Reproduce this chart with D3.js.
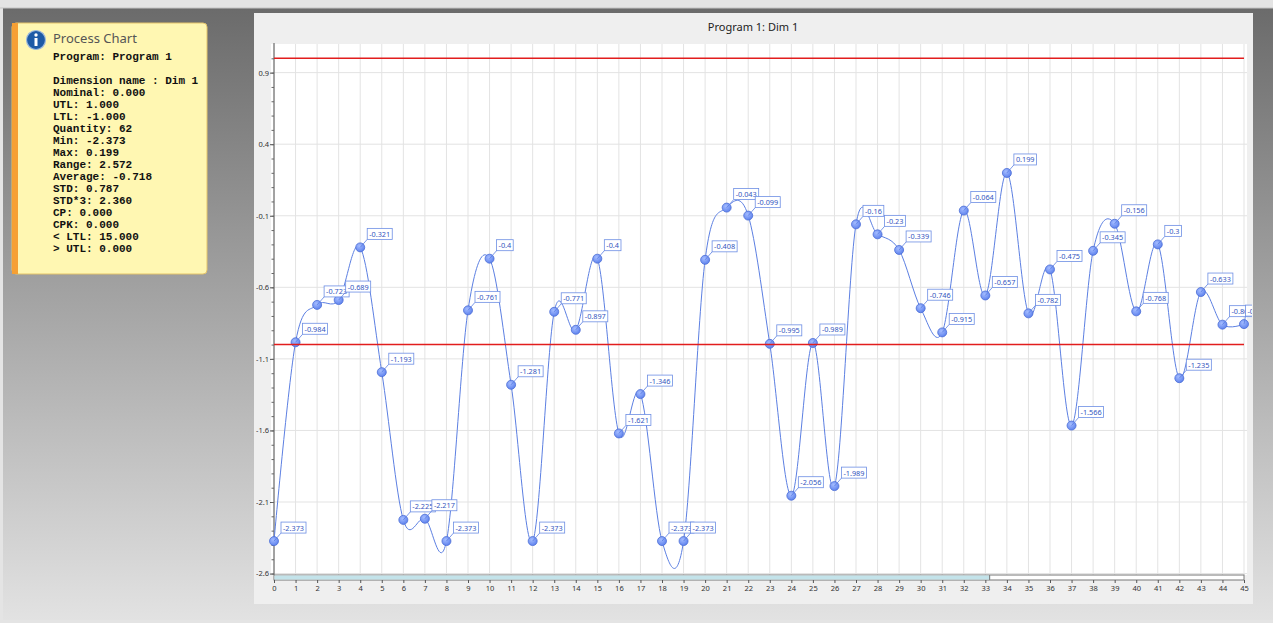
<!DOCTYPE html>
<html>
<head>
<meta charset="utf-8">
<script src="https://cdn.jsdelivr.net/npm/d3@7"></script>
<style>
  html, body { margin: 0; padding: 0; background: #d8d8d8; }
  svg { display: block; }
</style>
</head>
<body>
<svg width="1273" height="623"></svg>
<script>
// sample index shown on the x axis and measured value for each
var samples = d3.range(0, 46);
var dimValues = [-2.373, -0.984, -0.723, -0.689, -0.321, -1.193, -2.225, -2.217, -2.373, -0.761,
                 -0.4, -1.281, -2.373, -0.771, -0.897, -0.4, -1.621, -1.346, -2.373, -2.373,
                 -0.408, -0.043, -0.099, -0.995, -2.056, -0.989, -1.989, -0.16, -0.23, -0.339,
                 -0.746, -0.915, -0.064, -0.657, 0.199, -0.782, -0.475, -1.566, -0.345, -0.156,
                 -0.768, -0.3, -1.235, -0.633, -0.861, -0.857];
var limits = [1.0, -1.0];   // UTL, LTL
var yTicks = [0.9, 0.4, -0.1, -0.6, -1.1, -1.6, -2.1, -2.6];
var xTicks = d3.range(0, 46);

var infoTitle = "Process Chart";
var infoLines = [
  "Program: Program 1",
  "",
  "Dimension name : Dim 1",
  "Nominal: 0.000",
  "UTL: 1.000",
  "LTL: -1.000",
  "Quantity: 62",
  "Min: -2.373",
  "Max: 0.199",
  "Range: 2.572",
  "Average: -0.718",
  "STD: 0.787",
  "STD*3: 2.360",
  "CP: 0.000",
  "CPK: 0.000",
  "< LTL: 15.000",
  "> UTL: 0.000"
];
var chartTitle = "Program 1: Dim 1";

var svg = d3.select("svg");
var defs = svg.append("defs");

var bg = defs.append("linearGradient").attr("id", "bgGrad")
    .attr("x1", 0).attr("y1", 0).attr("x2", 0).attr("y2", 1);
bg.append("stop").attr("offset", "0%").attr("stop-color", "#6b6b6b");
bg.append("stop").attr("offset", "100%").attr("stop-color", "#e2e2e2");

var dot = defs.append("radialGradient").attr("id", "dotGrad")
    .attr("cx", "40%").attr("cy", "35%").attr("r", "65%");
dot.append("stop").attr("offset", "0%").attr("stop-color", "#a4bcff");
dot.append("stop").attr("offset", "100%").attr("stop-color", "#5f83ee");

// window background
svg.append("rect").attr("width", 1273).attr("height", 623).attr("fill", "#e4e4e4");
svg.append("rect").attr("x", 3).attr("y", 8).attr("width", 1270).attr("height", 612)
    .attr("fill", "url(#bgGrad)");
svg.append("line").attr("x1", 0).attr("x2", 1273).attr("y1", 8).attr("y2", 8)
    .attr("stroke", "#c4c4c4");

// info panel
var info = svg.append("g");
info.append("rect").attr("x", 12).attr("y", 23).attr("width", 195).attr("height", 251)
    .attr("rx", 4).attr("fill", "#fff7b2").attr("stroke", "#e4c46a");
info.append("rect").attr("x", 12).attr("y", 23).attr("width", 6).attr("height", 251)
    .attr("fill", "#f6a034");
info.append("circle").attr("cx", 36).attr("cy", 40).attr("r", 9.5)
    .attr("fill", "#1d5aa6").attr("stroke", "#9cb8dc").attr("stroke-width", 1.2);
info.append("circle").attr("cx", 36).attr("cy", 35).attr("r", 1.7).attr("fill", "#fff");
info.append("rect").attr("x", 34.5).attr("y", 38).attr("width", 3).attr("height", 8)
    .attr("fill", "#fff");
info.append("text").attr("x", 53).attr("y", 43)
    .attr("font-family", "'Noto Sans', sans-serif").attr("font-size", 13)
    .attr("fill", "#555").text(infoTitle);
info.selectAll("text.line")
  .data(infoLines)
  .enter().append("text")
    .attr("class", "line")
    .attr("x", 53)
    .attr("y", function(d, i) { return 60 + i * 12; })
    .attr("font-family", "'Liberation Mono', monospace")
    .attr("font-weight", "bold")
    .attr("font-size", 11)
    .attr("fill", "#111")
    .attr("xml:space", "preserve")
    .text(function(d) { return d; });

// chart panel
svg.append("rect").attr("x", 254).attr("y", 13).attr("width", 999).attr("height", 591)
    .attr("fill", "#efefef");
svg.append("text").attr("x", 753).attr("y", 31).attr("text-anchor", "middle")
    .attr("font-family", "'Noto Sans', sans-serif").attr("font-size", 11)
    .attr("fill", "#222").text(chartTitle);

var plotL = 274, plotR = 1244, plotT = 44, plotB = 575;
svg.append("rect").attr("x", 271).attr("y", plotT).attr("width", 976).attr("height", plotB - plotT)
    .attr("fill", "#fff");

var x = d3.scaleLinear().domain([0, 45]).range([plotL, plotR]);
var y = d3.scaleLinear().domain([-2.61, 1.1]).range([plotB, plotT]);

// grid
svg.append("g").selectAll("line")
  .data(xTicks)
  .enter().append("line")
    .attr("x1", function(d) { return x(d); }).attr("x2", function(d) { return x(d); })
    .attr("y1", plotT).attr("y2", plotB)
    .attr("stroke", "#e3e3e3");
svg.append("g").selectAll("line")
  .data(yTicks)
  .enter().append("line")
    .attr("x1", plotL).attr("x2", 1247)
    .attr("y1", function(d) { return y(d); }).attr("y2", function(d) { return y(d); })
    .attr("stroke", "#e3e3e3");

// y axis
var yAxis = svg.append("g")
    .attr("transform", "translate(" + plotL + ",0)")
    .call(d3.axisLeft(y).tickValues(yTicks).tickSize(4).tickPadding(1)
      .tickFormat(function(d) { return String(d); }));
yAxis.select(".domain").attr("stroke", "#555").attr("d", "M0," + (plotT - 1) + "V" + plotB);
yAxis.selectAll(".tick line").attr("stroke", "#555");
yAxis.selectAll("text").attr("font-family", "'Noto Sans', sans-serif")
    .attr("font-size", 7.5).attr("fill", "#333");
svg.append("g").attr("transform", "translate(" + plotL + ",0)")
  .call(d3.axisLeft(y).tickValues(d3.range(-26, 11).map(function(v) { return v / 10; }))
    .tickSize(2.5).tickFormat(""))
  .call(function(g) { g.select(".domain").remove(); })
  .selectAll("line").attr("stroke", "#666");

// x axis with scroll strip
svg.append("rect").attr("x", plotL).attr("y", plotB).attr("width", plotR - plotL).attr("height", 5)
    .attr("fill", "#fff").attr("stroke", "#777");
svg.append("rect").attr("x", plotL + 0.5).attr("y", plotB + 0.5).attr("width", x(33.2) - plotL)
    .attr("height", 4).attr("fill", "#c3e3ea");
svg.append("line").attr("x1", x(33.2)).attr("x2", x(33.2)).attr("y1", plotB).attr("y2", plotB + 5)
    .attr("stroke", "#777");
var xAxis = svg.append("g")
    .attr("transform", "translate(0," + (plotB + 5) + ")")
    .call(d3.axisBottom(x).tickValues(xTicks).tickSize(3).tickPadding(3)
      .tickFormat(d3.format("d")));
xAxis.select(".domain").remove();
xAxis.selectAll(".tick line").attr("stroke", "#555");
xAxis.selectAll("text").attr("font-family", "'Noto Sans', sans-serif")
    .attr("font-size", 7.5).attr("fill", "#333");

// series
defs.append("clipPath").attr("id", "plotClip").append("rect")
    .attr("x", 271).attr("y", plotT).attr("width", 976).attr("height", plotB - plotT);
defs.append("clipPath").attr("id", "labelClip").append("rect")
    .attr("x", 254).attr("y", plotT).attr("width", 998).attr("height", plotB - plotT);

var pts = samples.map(function(s, i) { return {s: s, v: dimValues[i]}; });

var line = d3.line()
    .x(function(d) { return x(d.s); })
    .y(function(d) { return y(d.v); })
    .curve(d3.curveCatmullRom.alpha(0));

svg.append("path").datum(pts)
    .attr("clip-path", "url(#plotClip)")
    .attr("fill", "none").attr("stroke", "#5c7fe2").attr("stroke-width", 1)
    .attr("d", line);

svg.append("g").selectAll("circle")
  .data(pts)
  .enter().append("circle")
    .attr("cx", function(d) { return x(d.s); })
    .attr("cy", function(d) { return y(d.v); })
    .attr("r", 4.5)
    .attr("fill", "url(#dotGrad)")
    .attr("stroke", "#4b6dd6").attr("stroke-width", 0.8);

// tolerance lines
svg.append("g").selectAll("line")
  .data(limits)
  .enter().append("line")
    .attr("x1", plotL).attr("x2", plotR)
    .attr("y1", function(d) { return y(d); }).attr("y2", function(d) { return y(d); })
    .attr("stroke", "#e21d1d").attr("stroke-width", 1.5);

// value labels (the one at the right edge is pulled in over its point)
function dx(d) { return Math.min(7, plotR + 1.5 - x(d.s)); }

var labels = svg.append("g").attr("clip-path", "url(#labelClip)")
  .selectAll("g")
  .data(pts)
  .enter().append("g")
    .attr("transform", function(d) { return "translate(" + x(d.s) + "," + y(d.v) + ")"; });

labels.append("line")
    .attr("x1", 0).attr("y1", 0).attr("x2", dx).attr("y2", -8)
    .attr("stroke", "#5c7fe2").attr("stroke-width", 0.8);
var boxes = labels.append("rect")
    .attr("x", dx).attr("y", -19).attr("height", 11)
    .attr("fill", "#fff").attr("stroke", "#6d8ee4").attr("stroke-width", 0.8);
var texts = labels.append("text")
    .attr("x", function(d) { return dx(d) + 2; }).attr("y", -10.5)
    .attr("font-family", "'Noto Sans', sans-serif").attr("font-size", 7.3)
    .attr("fill", "#3456c0")
    .text(function(d) { return String(d.v); });
texts.each(function(d) {
  d.tw = this.getComputedTextLength();
});
boxes.attr("width", function(d) { return d.tw + 4; });
</script>
</body>
</html>
